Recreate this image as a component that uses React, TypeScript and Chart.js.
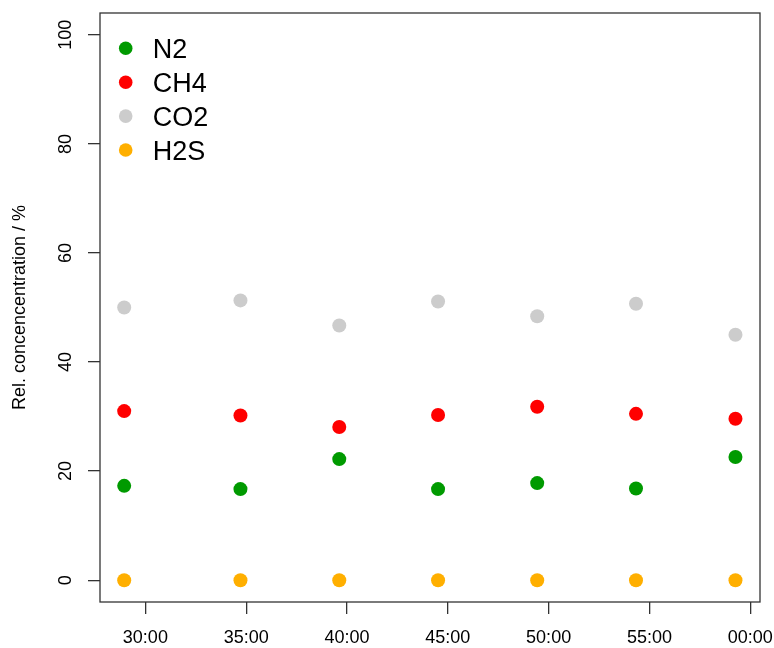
import React, { useEffect, useRef } from "react";
import { Chart, registerables } from "chart.js";

Chart.register(...registerables);

// ---- data ----
const times = ["28:57", "34:43", "39:37", "44:31", "49:26", "54:20", "59:16"];
const n2 = [17.3, 16.7, 22.2, 16.7, 17.8, 16.8, 22.6];
const ch4 = [31.0, 30.2, 28.1, 30.3, 31.8, 30.5, 29.6];
const co2 = [50.0, 51.3, 46.7, 51.1, 48.4, 50.7, 45.0];
const h2s = [0, 0, 0, 0, 0, 0, 0];
const seriesNames = ["N2", "CH4", "CO2", "H2S"];
const seriesColors = ["#009A00", "#FF0000", "#CCCCCC", "#FFAF00"];
const xTickValues = [1800, 2100, 2400, 2700, 3000, 3300, 3600];
const yTickValues = [0, 20, 40, 60, 80, 100];
const yTitle = "Rel. concencentration / %";

const FONT = "'Liberation Sans', Arial, Helvetica, sans-serif";

function toSeconds(t: string): number {
  const [m, s] = t.split(":").map(Number);
  return m * 60 + s;
}

function fmtTime(v: number): string {
  const total = Math.round(v);
  const m = Math.floor(total / 60) % 60;
  const s = total % 60;
  return String(m).padStart(2, "0") + ":" + String(s).padStart(2, "0");
}

const boxAndLegend = {
  id: "boxAndLegend",
  afterDraw(chart: any) {
    const { ctx, chartArea } = chart;
    const { left, top, right, bottom } = chartArea;
    ctx.save();
    ctx.strokeStyle = "#333";
    ctx.lineWidth = 1.3;
    ctx.strokeRect(left, top, right - left, bottom - top);

    ctx.font = "27px " + FONT;
    ctx.textBaseline = "alphabetic";
    ctx.textAlign = "left";
    seriesNames.forEach((name, i) => {
      const cy = top + 35.3 + i * 33.9;
      ctx.beginPath();
      ctx.fillStyle = seriesColors[i];
      ctx.arc(left + 25.7, cy, 6.8, 0, Math.PI * 2);
      ctx.fill();
      ctx.fillStyle = "#000";
      ctx.fillText(name, left + 52.7, cy + 9.7);
    });
    ctx.restore();
  },
};

export default function App() {
  const ref = useRef<HTMLCanvasElement | null>(null);

  useEffect(() => {
    if (!ref.current) return;
    const xs = times.map(toSeconds);
    const all = [n2, ch4, co2, h2s];
    const chart = new Chart(ref.current, {
      type: "scatter",
      data: {
        datasets: all.map((vals, i) => ({
          label: seriesNames[i],
          data: vals.map((v, j) => ({ x: xs[j], y: v })),
          backgroundColor: seriesColors[i],
          borderColor: seriesColors[i],
          borderWidth: 0,
          pointRadius: 7,
          pointHoverRadius: 7,
        })),
      },
      options: {
        animation: false,
        responsive: false,
        devicePixelRatio: 1,
        events: [],
        layout: { padding: { left: 0, top: 13, right: 14, bottom: 0 } },
        plugins: {
          legend: { display: false },
          tooltip: { enabled: false },
        },
        scales: {
          x: {
            type: "linear",
            min: 1665,
            max: 3629,
            afterBuildTicks: (s: any) => {
              s.ticks = xTickValues.map((v) => ({ value: v }));
            },
            afterFit: (s: any) => {
              s.height = 46;
              s.paddingLeft = 0;
              s.paddingRight = 0;
              s.paddingTop = 0;
              s.paddingBottom = 0;
            },
            border: { display: false },
            grid: {
              drawOnChartArea: false,
              drawTicks: true,
              tickLength: 12,
              color: "#333",
              lineWidth: 1.3,
            },
            ticks: {
              autoSkip: false,
              maxRotation: 0,
              minRotation: 0,
              padding: 13,
              color: "#000",
              font: { family: FONT, size: 18 },
              callback: (v: any) => fmtTime(Number(v)),
            },
          },
          y: {
            type: "linear",
            min: -4,
            max: 104,
            afterBuildTicks: (s: any) => {
              s.ticks = yTickValues.map((v) => ({ value: v }));
            },
            afterFit: (s: any) => {
              s.width = 100;
              s.paddingLeft = 0;
              s.paddingRight = 0;
              s.paddingTop = 0;
              s.paddingBottom = 0;
            },
            border: { display: false },
            grid: {
              drawOnChartArea: false,
              drawTicks: true,
              tickLength: 12,
              color: "#333",
              lineWidth: 1.3,
            },
            ticks: {
              autoSkip: false,
              minRotation: 90,
              maxRotation: 90,
              crossAlign: "center",
              padding: 6.5,
              color: "#000",
              font: { family: FONT, size: 18 },
              callback: (v: any) => String(v),
            },
            title: {
              display: true,
              text: yTitle,
              color: "#000",
              font: { family: FONT, size: 18 },
              padding: { top: 9, bottom: 0 },
            },
          },
        },
      },
      plugins: [boxAndLegend],
    } as any);
    return () => chart.destroy();
  }, []);

  return (
    <div style={{ position: "fixed", left: 0, top: 0, width: 774, height: 648, background: "#fff" }}>
      <canvas ref={ref} width={774} height={648} style={{ width: 774, height: 648, display: "block" }} />
    </div>
  );
}
